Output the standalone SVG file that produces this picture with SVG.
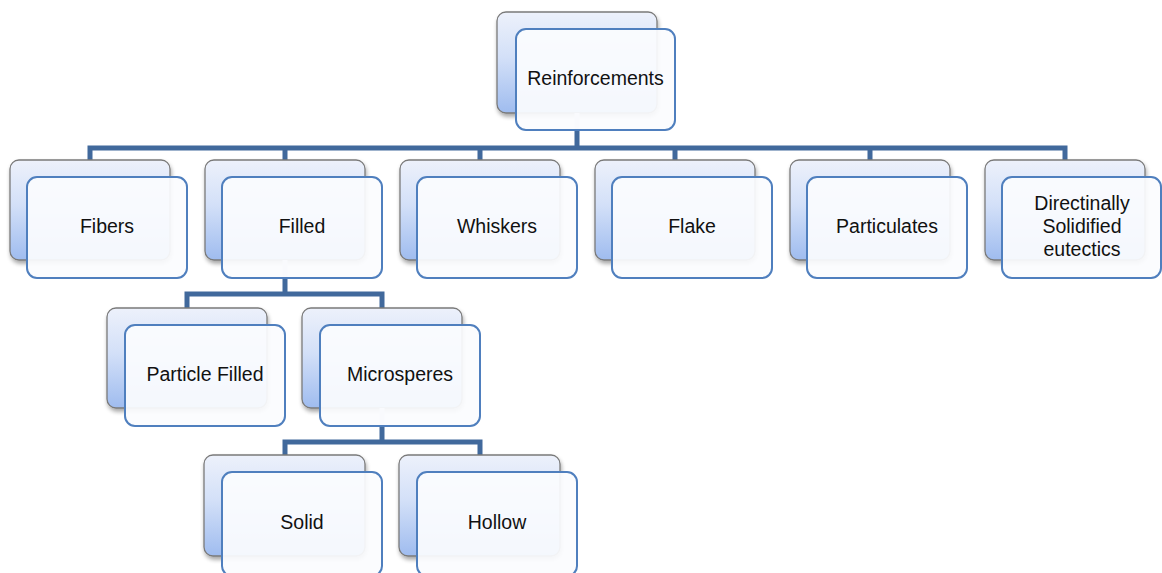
<svg xmlns="http://www.w3.org/2000/svg" width="1162" height="573" viewBox="0 0 1162 573">
<defs>
<linearGradient id="bg" x1="0" y1="0" x2="0" y2="1">
<stop offset="0" stop-color="#edf1fb"/>
<stop offset="0.45" stop-color="#d3e0f8"/>
<stop offset="1" stop-color="#9fbcef"/>
</linearGradient>
<filter id="sh" x="-10%" y="-10%" width="125%" height="130%">
<feGaussianBlur in="SourceAlpha" stdDeviation="2"/>
<feOffset dx="1" dy="3" result="b"/>
<feComponentTransfer><feFuncA type="linear" slope="0.35"/></feComponentTransfer>
<feMerge><feMergeNode/><feMergeNode in="SourceGraphic"/></feMerge>
</filter>
</defs>
<style>
.back{fill:url(#bg);stroke:#7a7a7a;stroke-width:1.3;filter:url(#sh)}
.front{fill:#fbfcfe;fill-opacity:0.93;stroke:#4f7fbe;stroke-width:2}
.lbl{font-family:"Liberation Sans",Arial,sans-serif;font-size:19.5px;fill:#111;text-anchor:middle}
.con{fill:none;stroke:#41699c;stroke-width:5;stroke-linejoin:miter}
.conf{fill:none;stroke:#dfe4ee;stroke-width:5}
</style>
<g id="connectors">
<path class="con" d="M577 130 V148 M90 160 V148 H1065 V160 M285 148 V160 M480 148 V160 M675 148 V160 M870 148 V160"/>
<path class="con" d="M285 278 V294 M187 308 V294 H382 V308"/>
<path class="con" d="M382 426 V442 M285 455 V442 H480 V455"/>
</g>
<g id="n-reinforcements">
<rect class="back" x="497" y="12" width="160" height="101" rx="9"/>
<line class="conf" x1="577" y1="113" x2="577" y2="129"/>
<rect class="front" x="516" y="29" width="159" height="101" rx="10"/>
<text class="lbl" x="595.5" y="85">Reinforcements</text>
</g>
<g id="n-fibers">
<rect class="back" x="10" y="160" width="160" height="100" rx="9"/>
<rect class="front" x="27" y="177" width="160" height="101" rx="10"/>
<text class="lbl" x="107" y="233">Fibers</text>
</g>
<g id="n-filled">
<rect class="back" x="205" y="160" width="160" height="100" rx="9"/>
<line class="conf" x1="285" y1="260" x2="285" y2="277"/>
<rect class="front" x="222" y="177" width="160" height="101" rx="10"/>
<text class="lbl" x="302" y="233">Filled</text>
</g>
<g id="n-whiskers">
<rect class="back" x="400" y="160" width="160" height="100" rx="9"/>
<rect class="front" x="417" y="177" width="160" height="101" rx="10"/>
<text class="lbl" x="497" y="233">Whiskers</text>
</g>
<g id="n-flake">
<rect class="back" x="595" y="160" width="160" height="100" rx="9"/>
<rect class="front" x="612" y="177" width="160" height="101" rx="10"/>
<text class="lbl" x="692" y="233">Flake</text>
</g>
<g id="n-particulates">
<rect class="back" x="790" y="160" width="160" height="100" rx="9"/>
<rect class="front" x="807" y="177" width="160" height="101" rx="10"/>
<text class="lbl" x="887" y="233">Particulates</text>
</g>
<g id="n-directinally">
<rect class="back" x="985" y="160" width="160" height="100" rx="9"/>
<rect class="front" x="1002" y="177" width="159" height="101" rx="10"/>
<text class="lbl" x="1082" y="210">Directinally</text>
<text class="lbl" x="1082" y="233">Solidified</text>
<text class="lbl" x="1082" y="256">eutectics</text>
</g>
<g id="n-particle-filled">
<rect class="back" x="107" y="308" width="160" height="100" rx="9"/>
<rect class="front" x="125" y="325" width="160" height="101" rx="10"/>
<text class="lbl" x="205" y="381">Particle Filled</text>
</g>
<g id="n-microsperes">
<rect class="back" x="302" y="308" width="160" height="100" rx="9"/>
<line class="conf" x1="382" y1="408" x2="382" y2="425"/>
<rect class="front" x="320" y="325" width="160" height="101" rx="10"/>
<text class="lbl" x="400" y="381">Microsperes</text>
</g>
<g id="n-solid">
<rect class="back" x="204" y="455" width="161" height="101" rx="9"/>
<rect class="front" x="222" y="472" width="160" height="104" rx="10"/>
<text class="lbl" x="302" y="529">Solid</text>
</g>
<g id="n-hollow">
<rect class="back" x="399" y="455" width="161" height="101" rx="9"/>
<rect class="front" x="417" y="472" width="160" height="104" rx="10"/>
<text class="lbl" x="497" y="529">Hollow</text>
</g>
</svg>
